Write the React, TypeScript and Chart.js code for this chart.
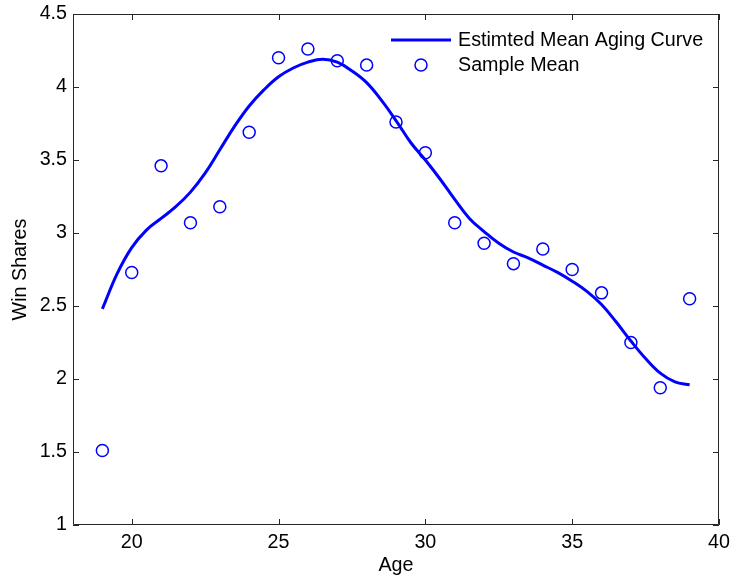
import React, { useEffect, useRef } from "react";
import { Chart, registerables } from "chart.js";

Chart.register(...registerables);

// Sample mean of win shares at each age
const sampleAges = [19, 20, 21, 22, 23, 24, 25, 26, 27, 28, 29, 30, 31, 32, 33, 34, 35, 36, 37, 38, 39];
const sampleMean = [1.51, 2.73, 3.46, 3.07, 3.18, 3.69, 4.20, 4.26, 4.18, 4.15, 3.76, 3.55, 3.07, 2.93, 2.79, 2.89, 2.75, 2.59, 2.25, 1.94, 2.55];

// Estimated mean aging curve, sampled every half year
const curveAges = [19, 19.5, 20, 20.5, 21, 21.5, 22, 22.5, 23, 23.5, 24, 24.5, 25, 25.5, 26, 26.5, 27, 27.5, 28, 28.5, 29, 29.5, 30, 30.5, 31, 31.5, 32, 32.5, 33, 33.5, 34, 34.5, 35, 35.5, 36, 36.5, 37, 37.5, 38, 38.5, 39];
const curveMean = [2.48, 2.72, 2.90, 3.02, 3.10, 3.18, 3.28, 3.41, 3.57, 3.73, 3.87, 3.98, 4.07, 4.13, 4.17, 4.19, 4.17, 4.11, 4.03, 3.91, 3.77, 3.62, 3.50, 3.37, 3.23, 3.10, 3.01, 2.93, 2.87, 2.83, 2.78, 2.73, 2.67, 2.60, 2.51, 2.39, 2.26, 2.14, 2.04, 1.98, 1.96];

const xTicks = [20, 25, 30, 35, 40];
const yTicks = [1, 1.5, 2, 2.5, 3, 3.5, 4, 4.5];

const curveLabel = "Estimted Mean Aging Curve";
const sampleLabel = "Sample Mean";

const BLUE = "#0000ff";
const AXIS = "#262626";
const FONT = "'Liberation Sans', Arial, Helvetica, sans-serif";
const FONT_SIZE = 19.7;

// Boxed axes with inward tick marks on all four sides, plus the legend
const framePlugin = {
  id: "frame",
  afterDraw(chart: any) {
    const { ctx, chartArea: a, scales } = chart;
    const xs = scales.x;
    const ys = scales.y;
    const tl = 6;
    ctx.save();
    ctx.strokeStyle = AXIS;
    ctx.lineWidth = 1;
    ctx.beginPath();
    ctx.rect(a.left + 0.5, a.top + 0.5, a.right - a.left - 1, a.bottom - a.top - 1);
    for (const v of xTicks) {
      const px = Math.round(xs.getPixelForValue(v)) + 0.5;
      ctx.moveTo(px, a.bottom);
      ctx.lineTo(px, a.bottom - tl);
      ctx.moveTo(px, a.top);
      ctx.lineTo(px, a.top + tl);
    }
    for (const v of yTicks) {
      const py = Math.round(ys.getPixelForValue(v)) + 0.5;
      ctx.moveTo(a.left, py);
      ctx.lineTo(a.left + tl, py);
      ctx.moveTo(a.right, py);
      ctx.lineTo(a.right - tl, py);
    }
    ctx.stroke();

    // legend (no box)
    const lx = a.right - 328;
    const ly1 = a.top + 26;
    const ly2 = a.top + 51;
    ctx.strokeStyle = BLUE;
    ctx.lineWidth = 3;
    ctx.beginPath();
    ctx.moveTo(lx, ly1);
    ctx.lineTo(lx + 60, ly1);
    ctx.stroke();
    ctx.lineWidth = 1.5;
    ctx.beginPath();
    ctx.arc(lx + 30, ly2, 6, 0, Math.PI * 2);
    ctx.stroke();
    ctx.fillStyle = "#000";
    ctx.font = `${FONT_SIZE}px ${FONT}`;
    ctx.textAlign = "left";
    ctx.textBaseline = "alphabetic";
    ctx.fillText(curveLabel, lx + 67, ly1 + 6);
    ctx.fillText(sampleLabel, lx + 67, ly2 + 6);
    ctx.restore();
  },
};

export default function App() {
  const canvasRef = useRef<HTMLCanvasElement | null>(null);

  useEffect(() => {
    const canvas = canvasRef.current;
    if (!canvas) return;
    const chart = new Chart(canvas, {
      type: "scatter",
      data: {
        datasets: [
          {
            label: curveLabel,
            data: curveAges.map((x, i) => ({ x, y: curveMean[i] })),
            showLine: true,
            borderColor: BLUE,
            borderWidth: 3,
            pointRadius: 0,
            tension: 0.4,
            fill: false,
          } as any,
          {
            label: sampleLabel,
            data: sampleAges.map((x, i) => ({ x, y: sampleMean[i] })),
            showLine: false,
            borderColor: BLUE,
            backgroundColor: "rgba(0,0,0,0)",
            borderWidth: 1.5,
            pointRadius: 6,
            pointStyle: "circle",
          },
        ],
      },
      options: {
        responsive: false,
        animation: false,
        events: [],
        layout: { padding: { left: 0, right: 14, top: 14, bottom: 0 } },
        plugins: {
          legend: { display: false },
          tooltip: { enabled: false },
        },
        scales: {
          x: {
            type: "linear",
            min: 18,
            max: 40,
            grid: { display: false, drawTicks: false },
            border: { display: false },
            afterBuildTicks: (s: any) => {
              s.ticks = xTicks.map((v) => ({ value: v }));
            },
            afterFit: (s: any) => {
              s.height = 57;
              s.paddingLeft = 0;
              s.paddingRight = 0;
            },
            ticks: {
              padding: 6,
              color: "#000",
              font: { family: FONT, size: FONT_SIZE },
              callback: (v: any) => String(v),
              maxRotation: 0,
              autoSkip: false,
            },
            title: {
              display: true,
              text: "Age",
              color: "#000",
              font: { family: FONT, size: FONT_SIZE },
              padding: { top: 0, bottom: 5 },
            },
          },
          y: {
            type: "linear",
            min: 1,
            max: 4.5,
            grid: { display: false, drawTicks: false },
            border: { display: false },
            afterBuildTicks: (s: any) => {
              s.ticks = yTicks.map((v) => ({ value: v }));
            },
            afterFit: (s: any) => {
              s.width = 73;
              s.paddingTop = 0;
              s.paddingBottom = 0;
            },
            ticks: {
              padding: 6,
              color: "#000",
              font: { family: FONT, size: FONT_SIZE },
              callback: (v: any) => String(v),
              autoSkip: false,
            },
            title: {
              display: true,
              text: "Win Shares",
              color: "#000",
              font: { family: FONT, size: FONT_SIZE },
              padding: { top: 9, bottom: 0 },
            },
          },
        },
      },
      plugins: [framePlugin],
    });
    return () => chart.destroy();
  }, []);

  return (
    <div style={{ position: "fixed", left: 0, top: 0, width: 733, height: 582, background: "#fff" }}>
      <canvas ref={canvasRef} width={733} height={582} />
    </div>
  );
}
